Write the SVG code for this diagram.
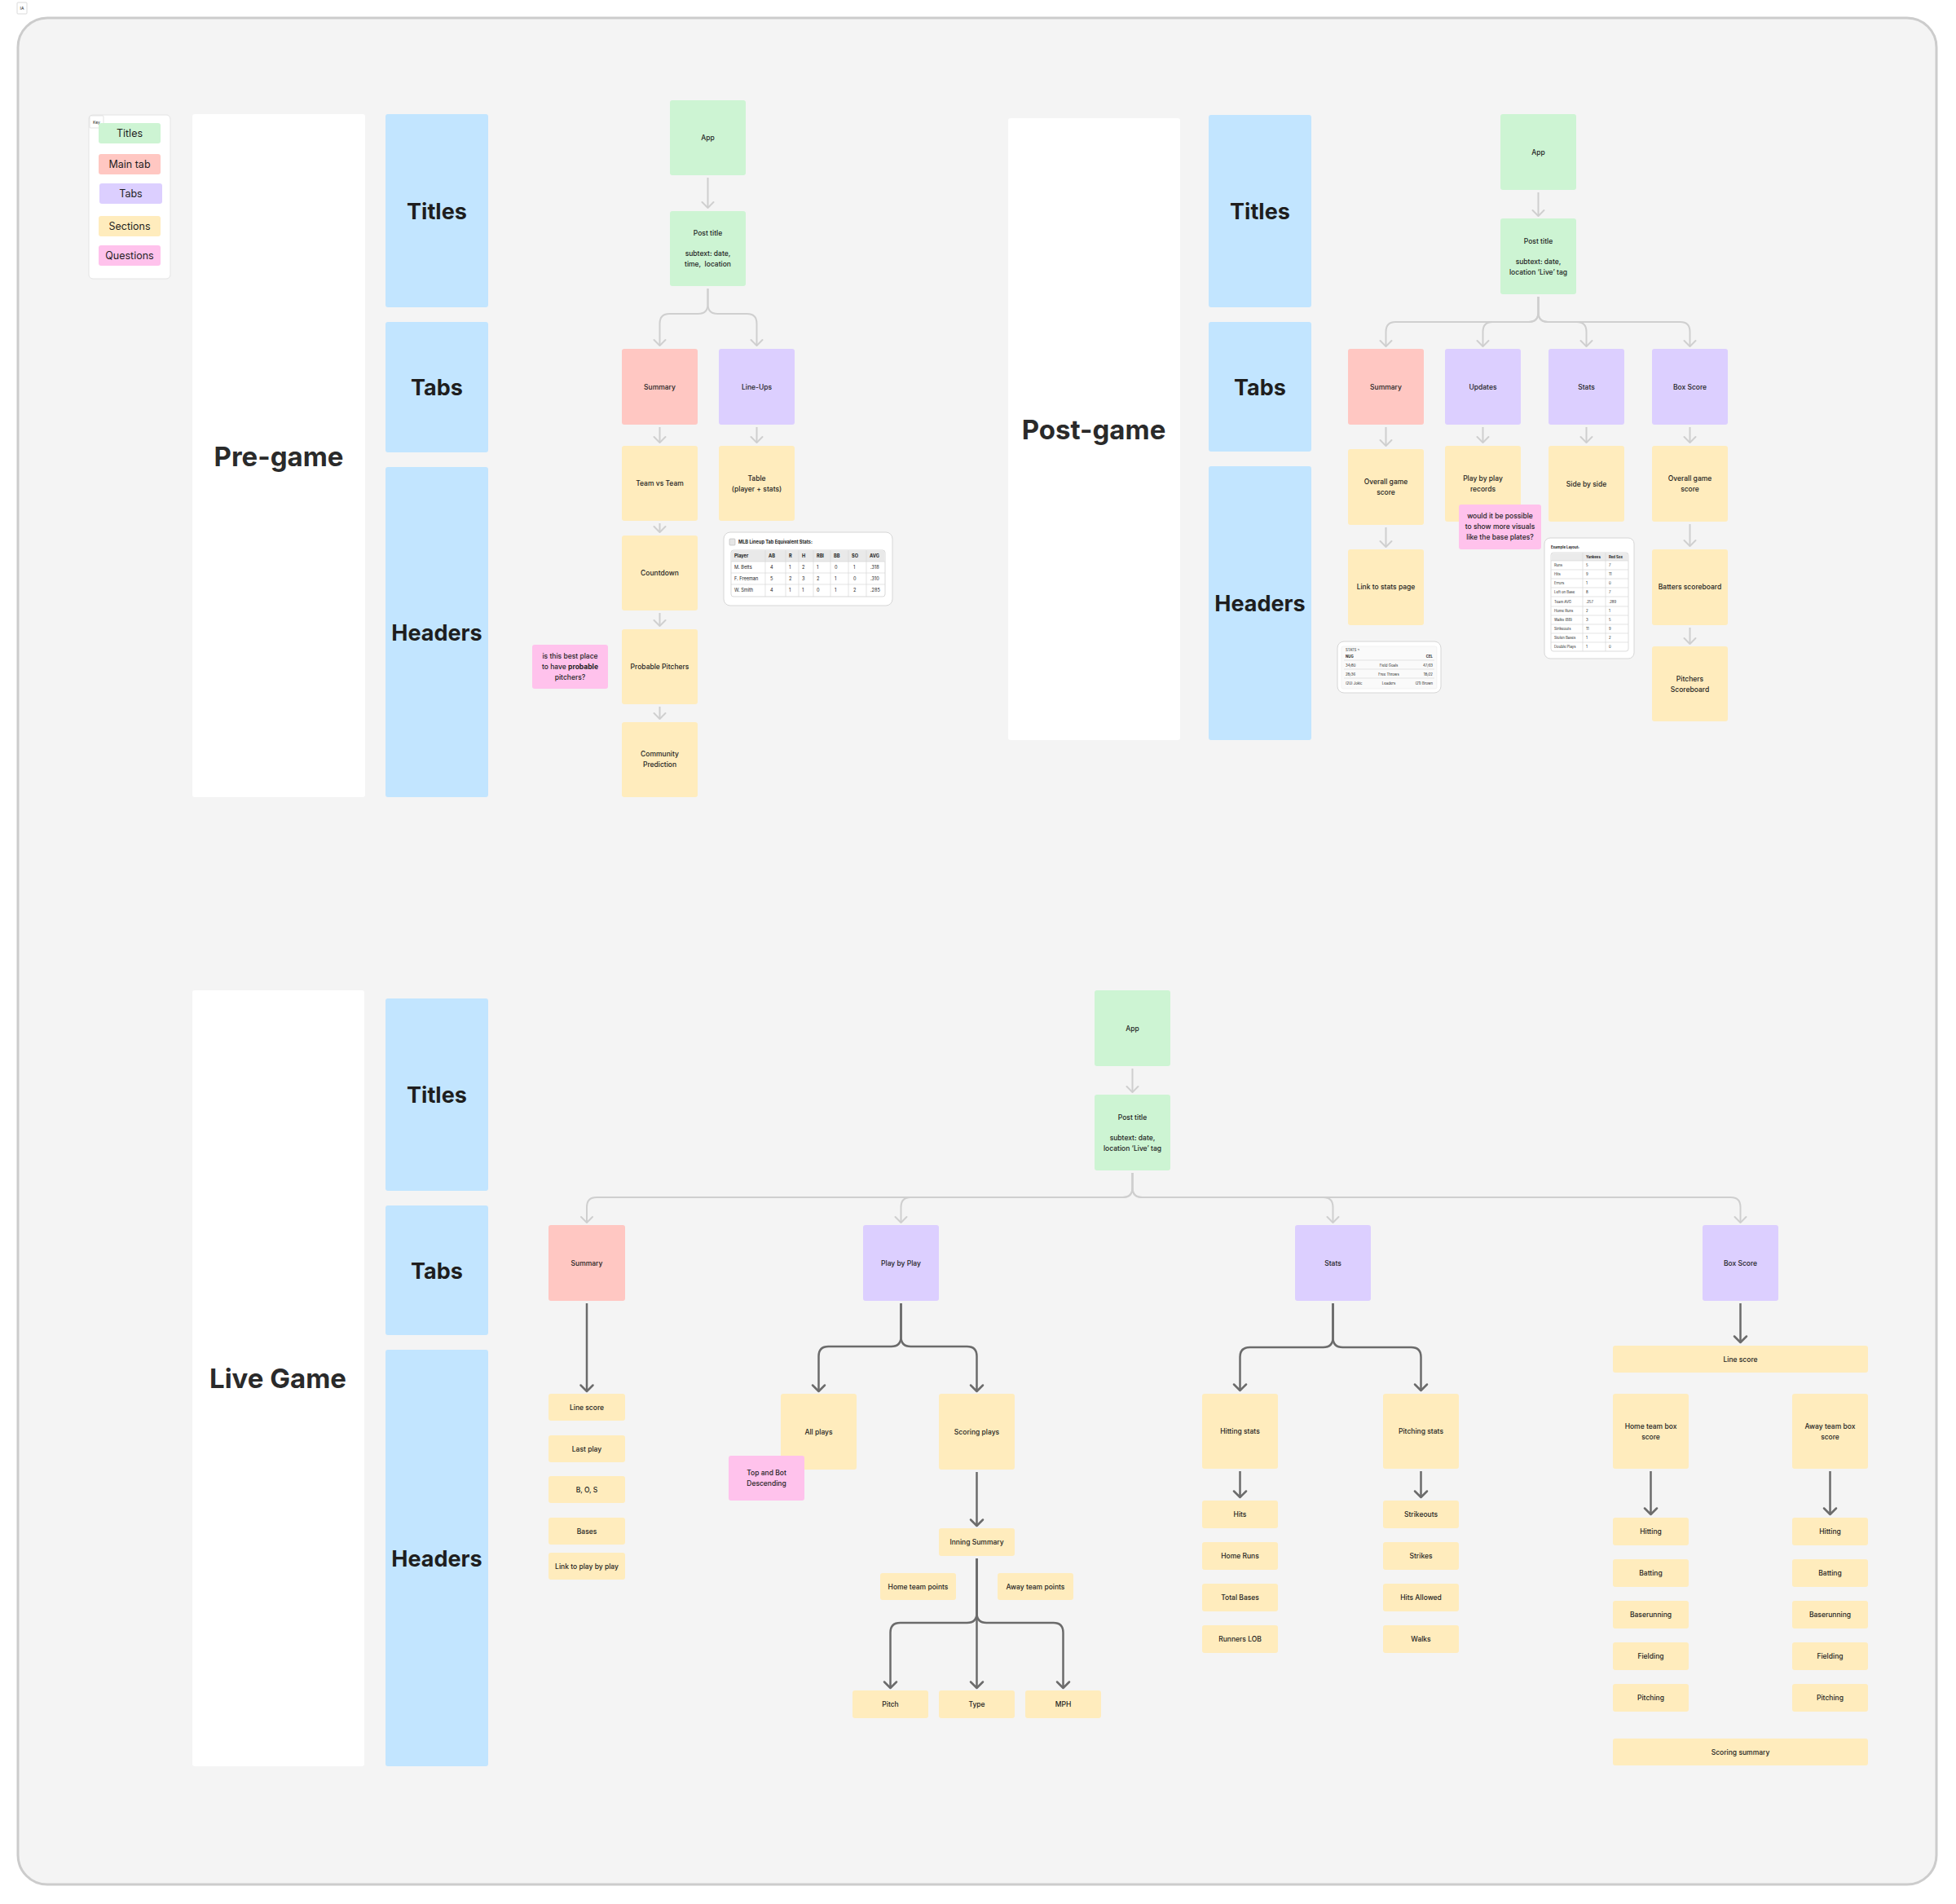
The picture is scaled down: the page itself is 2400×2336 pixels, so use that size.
<svg xmlns="http://www.w3.org/2000/svg" width="2400" height="2336" viewBox="0 0 2400 2336">
<defs>
<style>
.g{fill:#cdf4d3}.r{fill:#ffc7c2}.v{fill:#dccfff}.y{fill:#ffecbd}.p{fill:#ffc2ec}.b{fill:#c2e5ff}.w{fill:#ffffff}
rect{rx:3px}
text{font-family:Inter,"Noto Sans","Liberation Sans",sans-serif;fill:#1e1e1e}
.n{font-size:8.5px;font-weight:500;text-anchor:middle;dominant-baseline:central}
.h{font-size:27px;font-weight:700;text-anchor:middle;dominant-baseline:central}
.s{font-size:33px;font-weight:700;text-anchor:middle;dominant-baseline:central;fill:#2a2a2a}
.k{font-size:12.5px;font-weight:400;text-anchor:middle;dominant-baseline:central}
.tiny{font-size:5px;font-weight:400;text-anchor:middle;dominant-baseline:central}
.tb{font-size:5.6px;font-weight:400;dominant-baseline:central}
.tbb{font-size:5.6px;font-weight:700;dominant-baseline:central}
.ex{font-size:4.3px;font-weight:400;dominant-baseline:central}
.exb{font-size:4.3px;font-weight:700;dominant-baseline:central}
.lc{fill:none;stroke:#cfcfcf;stroke-width:2;marker-end:url(#al)}
.dc{fill:none;stroke:#6b6b6b;stroke-width:2.5;marker-end:url(#ad)}
.card{fill:#ffffff;stroke:#d6d6d6;stroke-width:1}
.grid{stroke:#d9d9d9;stroke-width:0.7;fill:none}
</style>
<marker id="al" markerUnits="userSpaceOnUse" viewBox="-10 -10 12 20" refX="0" refY="0" markerWidth="12" markerHeight="20" orient="auto"><path d="M-7,-7 L0,0 L-7,7" fill="none" stroke="#cfcfcf" stroke-width="2" stroke-linecap="round" stroke-linejoin="round"/></marker>
<marker id="ad" markerUnits="userSpaceOnUse" viewBox="-10 -10 12 20" refX="0" refY="0" markerWidth="12" markerHeight="20" orient="auto"><path d="M-7.5,-7.5 L0,0 L-7.5,7.5" fill="none" stroke="#6b6b6b" stroke-width="2.5" stroke-linecap="round" stroke-linejoin="round"/></marker>
</defs>
<rect x="0" y="0" width="2400" height="2336" fill="#ffffff" style="rx:0"/>
<g id="ia-label"><rect x="21" y="3" width="12" height="14" fill="#ffffff" stroke="#d0d0d0" stroke-width="0.8" style="rx:1px"/><text class="tiny" x="27" y="10">IA</text></g>
<rect id="frame" x="22" y="22" width="2354" height="2290" fill="#f4f4f4" stroke="#cccccc" stroke-width="3" style="rx:36px"/>

<g id="key">
<rect x="109" y="141" width="100" height="201" fill="#ffffff" stroke="#e4e4e4" stroke-width="1" style="rx:5px"/>
<rect x="110" y="142" width="17" height="15" fill="#ffffff" stroke="#d6d6d6" stroke-width="0.7" style="rx:1px"/><text class="tiny" x="118.5" y="149.5">Key</text>
<rect class="g" x="121" y="151" width="76" height="25"/><text class="k" x="159" y="163.5">Titles</text>
<rect class="r" x="121" y="189" width="76" height="25"/><text class="k" x="159" y="201.5">Main tab</text>
<rect class="v" x="122" y="225" width="77" height="25"/><text class="k" x="160.5" y="237.5">Tabs</text>
<rect class="y" x="121" y="265" width="76" height="25"/><text class="k" x="159" y="277.5">Sections</text>
<rect class="p" x="121" y="301" width="76" height="25"/><text class="k" x="159" y="313.5">Questions</text>
</g>

<!-- PRE-GAME -->
<g id="pre-section"><rect class="w" x="236" y="140" width="212" height="838"/><text class="s" x="342" y="560">Pre-game</text></g>
<g id="pre-titles"><rect class="b" x="473" y="140" width="126" height="237"/><text class="h" x="536" y="259">Titles</text></g>
<g id="pre-tabs"><rect class="b" x="473" y="395" width="126" height="160"/><text class="h" x="536" y="475">Tabs</text></g>
<g id="pre-headers"><rect class="b" x="473" y="573" width="126" height="405"/><text class="h" x="536" y="776">Headers</text></g>

<g id="pre-app"><rect class="g" x="822" y="123" width="93" height="92"/><text class="n" x="868.5" y="169">App</text></g>
<g id="pre-post"><rect class="g" x="822" y="259" width="93" height="92"/><text class="n" x="868.5" y="286">Post title</text><text class="n" x="868.5" y="311">subtext: date,</text><text class="n" x="868.5" y="324" xml:space="preserve">time,  location</text></g>
<g id="pre-summary"><rect class="r" x="763" y="428" width="93" height="93"/><text class="n" x="809.5" y="475">Summary</text></g>
<g id="pre-lineups"><rect class="v" x="882" y="428" width="93" height="93"/><text class="n" x="928.5" y="475">Line-Ups</text></g>
<g id="pre-teamvs"><rect class="y" x="763" y="547" width="93" height="92"/><text class="n" x="809.5" y="593">Team vs Team</text></g>
<g id="pre-table"><rect class="y" x="882" y="547" width="93" height="92"/><text class="n" x="928.5" y="587">Table</text><text class="n" x="928.5" y="600">(player + stats)</text></g>
<g id="pre-countdown"><rect class="y" x="763" y="657" width="93" height="92"/><text class="n" x="809.5" y="703">Countdown</text></g>
<g id="pre-pitchers"><rect class="y" x="763" y="772" width="93" height="92"/><text class="n" x="809.5" y="818">Probable Pitchers</text></g>
<g id="pre-community"><rect class="y" x="763" y="886" width="93" height="92"/><text class="n" x="809.5" y="925">Community</text><text class="n" x="809.5" y="938">Prediction</text></g>
<g id="pre-question"><rect class="p" x="653" y="791" width="93" height="54"/><text class="n" x="699.5" y="805">is this best place</text><text class="n" x="699.5" y="818">to have <tspan font-weight="700">probable</tspan></text><text class="n" x="699.5" y="831" font-weight="700">pitchers?</text></g>

<g id="pre-mlb-card">
<rect class="card" x="888" y="653" width="207" height="90" style="rx:8px"/>
<rect x="895" y="661" width="7" height="8" fill="#e6e6e6" stroke="#aaaaaa" stroke-width="0.5" style="rx:1px"/>
<text class="tbb" x="906" y="665" font-size="6.3">MLB Lineup Tab Equivalent Stats:</text>
<rect x="897" y="675" width="189" height="57" fill="#ffffff" stroke="#cfcfcf" stroke-width="0.8" style="rx:3px"/>
<path d="M897.5,689 V678 Q897.5,675.5 900,675.5 H1083 Q1085.5,675.5 1085.5,678 V689 Z" fill="#e9e9e9"/>
<path class="grid" d="M897,689 H1086 M897,703 H1086 M897,717 H1086 M939,675 V732 M964,675 V732 M980,675 V732 M998,675 V732 M1019,675 V732 M1041,675 V732 M1063,675 V732"/>
<g class="tbb"><text class="tbb" x="901" y="682">Player</text><text class="tbb" x="943" y="682">AB</text><text class="tbb" x="968" y="682">R</text><text class="tbb" x="984" y="682">H</text><text class="tbb" x="1002" y="682">RBI</text><text class="tbb" x="1023" y="682">BB</text><text class="tbb" x="1045" y="682">SO</text><text class="tbb" x="1067" y="682">AVG</text></g>
<text class="tb" x="901" y="696">M. Betts</text><text class="tb" x="945" y="696">4</text><text class="tb" x="968" y="696">1</text><text class="tb" x="984" y="696">2</text><text class="tb" x="1002" y="696">1</text><text class="tb" x="1024" y="696">0</text><text class="tb" x="1047" y="696">1</text><text class="tb" x="1068" y="696">.318</text>
<text class="tb" x="901" y="710">F. Freeman</text><text class="tb" x="945" y="710">5</text><text class="tb" x="968" y="710">2</text><text class="tb" x="984" y="710">3</text><text class="tb" x="1002" y="710">2</text><text class="tb" x="1024" y="710">1</text><text class="tb" x="1047" y="710">0</text><text class="tb" x="1068" y="710">.310</text>
<text class="tb" x="901" y="724">W. Smith</text><text class="tb" x="945" y="724">4</text><text class="tb" x="968" y="724">1</text><text class="tb" x="984" y="724">1</text><text class="tb" x="1002" y="724">0</text><text class="tb" x="1024" y="724">1</text><text class="tb" x="1047" y="724">2</text><text class="tb" x="1068" y="724">.285</text>
</g>

<!-- POST-GAME -->
<g id="post-section"><rect class="w" x="1237" y="145" width="211" height="763"/><text class="s" x="1342" y="527">Post-game</text></g>
<g id="post-titles"><rect class="b" x="1483" y="141" width="126" height="236"/><text class="h" x="1546" y="259">Titles</text></g>
<g id="post-tabs"><rect class="b" x="1483" y="395" width="126" height="159"/><text class="h" x="1546" y="475">Tabs</text></g>
<g id="post-headers"><rect class="b" x="1483" y="572" width="126" height="336"/><text class="h" x="1546" y="740">Headers</text></g>

<g id="post-app"><rect class="g" x="1841" y="140" width="93" height="93"/><text class="n" x="1887.5" y="186.5">App</text></g>
<g id="post-post"><rect class="g" x="1841" y="268" width="93" height="93"/><text class="n" x="1887.5" y="296">Post title</text><text class="n" x="1887.5" y="321">subtext: date,</text><text class="n" x="1887.5" y="334">location ‘Live’ tag</text></g>
<g id="post-summary"><rect class="r" x="1654" y="428" width="93" height="93"/><text class="n" x="1700.5" y="474.5">Summary</text></g>
<g id="post-updates"><rect class="v" x="1773" y="428" width="93" height="93"/><text class="n" x="1819.5" y="474.5">Updates</text></g>
<g id="post-stats"><rect class="v" x="1900" y="428" width="93" height="93"/><text class="n" x="1946.5" y="474.5">Stats</text></g>
<g id="post-boxscore"><rect class="v" x="2027" y="428" width="93" height="93"/><text class="n" x="2073.5" y="474.5">Box Score</text></g>
<g id="post-overall1"><rect class="y" x="1654" y="551" width="93" height="93"/><text class="n" x="1700.5" y="591">Overall game</text><text class="n" x="1700.5" y="604">score</text></g>
<g id="post-pbp"><rect class="y" x="1773" y="547" width="93" height="93"/><text class="n" x="1819.5" y="587">Play by play</text><text class="n" x="1819.5" y="600">records</text></g>
<g id="post-side"><rect class="y" x="1900" y="547" width="93" height="93"/><text class="n" x="1946.5" y="593.5">Side by side</text></g>
<g id="post-overall2"><rect class="y" x="2027" y="547" width="93" height="93"/><text class="n" x="2073.5" y="587">Overall game</text><text class="n" x="2073.5" y="600">score</text></g>
<g id="post-link"><rect class="y" x="1654" y="674" width="93" height="93"/><text class="n" x="1700.5" y="720">Link to stats page</text></g>
<g id="post-batters"><rect class="y" x="2027" y="674" width="93" height="93"/><text class="n" x="2073.5" y="720">Batters scoreboard</text></g>
<g id="post-pitchers"><rect class="y" x="2027" y="793" width="93" height="92"/><text class="n" x="2073.5" y="833">Pitchers</text><text class="n" x="2073.5" y="846">Scoreboard</text></g>
<g id="post-question"><rect class="p" x="1790" y="619" width="101" height="55"/><text class="n" x="1840.5" y="633">would it be possible</text><text class="n" x="1840.5" y="646">to show more visuals</text><text class="n" x="1840.5" y="659">like the base plates?</text></g>

<g id="post-nba-card">
<rect class="card" x="1641" y="787" width="127" height="63" style="rx:8px"/>
<rect x="1646" y="793" width="117" height="52" fill="#fafafa" stroke="#ececec" stroke-width="0.6" style="rx:2px"/>
<path class="grid" d="M1649,810 H1760 M1649,821 H1760 M1649,832 H1760"/>
<text class="ex" x="1651" y="797" fill="#888888" font-size="3.6">STATS &gt;</text>
<text class="exb" x="1651" y="805">NUG</text><text class="exb" x="1758" y="805" text-anchor="end">CEL</text>
<text class="ex" x="1651" y="816">34/80</text><text class="ex" x="1704" y="816" text-anchor="middle">Field Goals</text><text class="ex" x="1758" y="816" text-anchor="end">47/93</text>
<text class="ex" x="1651" y="827">28/36</text><text class="ex" x="1704" y="827" text-anchor="middle">Free Throws</text><text class="ex" x="1758" y="827" text-anchor="end">18/22</text>
<text class="ex" x="1651" y="838">(20) Jokic</text><text class="ex" x="1704" y="838" text-anchor="middle">Leaders</text><text class="ex" x="1758" y="838" text-anchor="end">(21) Brown</text>
</g>

<g id="post-example-card">
<rect class="card" x="1895" y="660" width="110" height="148" style="rx:7px"/>
<text class="exb" x="1903" y="671">Example Layout:</text>
<rect x="1903" y="678" width="95" height="121" fill="#ffffff" stroke="#cfcfcf" stroke-width="0.7" style="rx:3px"/>
<path d="M1903.4,688 V681 Q1903.4,678.4 1906,678.4 H1995 Q1997.6,678.4 1997.6,681 V688 Z" fill="#ebebeb"/>
<path class="grid" d="M1903,688 H1998 M1903,699 H1998 M1903,710 H1998 M1903,721 H1998 M1903,732 H1998 M1903,744 H1998 M1903,755 H1998 M1903,766 H1998 M1903,777 H1998 M1903,788 H1998 M1942,678 V799 M1970,678 V799"/>
<text class="exb" x="1946" y="683">Yankees</text><text class="exb" x="1974" y="683">Red Sox</text>
<text class="ex" x="1907" y="693.5">Runs</text><text class="ex" x="1946" y="693.5">5</text><text class="ex" x="1974" y="693.5">7</text>
<text class="ex" x="1907" y="704.5">Hits</text><text class="ex" x="1946" y="704.5">9</text><text class="ex" x="1974" y="704.5">11</text>
<text class="ex" x="1907" y="715.5">Errors</text><text class="ex" x="1946" y="715.5">1</text><text class="ex" x="1974" y="715.5">0</text>
<text class="ex" x="1907" y="726.5">Left on Base</text><text class="ex" x="1946" y="726.5">8</text><text class="ex" x="1974" y="726.5">7</text>
<text class="ex" x="1907" y="738">Team AVG</text><text class="ex" x="1946" y="738">.257</text><text class="ex" x="1974" y="738">.289</text>
<text class="ex" x="1907" y="749.5">Home Runs</text><text class="ex" x="1946" y="749.5">2</text><text class="ex" x="1974" y="749.5">1</text>
<text class="ex" x="1907" y="760.5">Walks (BB)</text><text class="ex" x="1946" y="760.5">3</text><text class="ex" x="1974" y="760.5">5</text>
<text class="ex" x="1907" y="771.5">Strikeouts</text><text class="ex" x="1946" y="771.5">11</text><text class="ex" x="1974" y="771.5">9</text>
<text class="ex" x="1907" y="782.5">Stolen Bases</text><text class="ex" x="1946" y="782.5">1</text><text class="ex" x="1974" y="782.5">2</text>
<text class="ex" x="1907" y="793.5">Double Plays</text><text class="ex" x="1946" y="793.5">1</text><text class="ex" x="1974" y="793.5">0</text>
</g>

<!-- LIVE GAME -->
<g id="live-section"><rect class="w" x="236" y="1215" width="211" height="952"/><text class="s" x="341" y="1691">Live Game</text></g>
<g id="live-titles"><rect class="b" x="473" y="1225" width="126" height="236"/><text class="h" x="536" y="1343">Titles</text></g>
<g id="live-tabs"><rect class="b" x="473" y="1479" width="126" height="159"/><text class="h" x="536" y="1559">Tabs</text></g>
<g id="live-headers"><rect class="b" x="473" y="1656" width="126" height="511"/><text class="h" x="536" y="1912">Headers</text></g>

<g id="live-app"><rect class="g" x="1343" y="1215" width="93" height="93"/><text class="n" x="1389.5" y="1262">App</text></g>
<g id="live-post"><rect class="g" x="1343" y="1343" width="93" height="93"/><text class="n" x="1389.5" y="1371">Post title</text><text class="n" x="1389.5" y="1396">subtext: date,</text><text class="n" x="1389.5" y="1409">location ‘Live’ tag</text></g>
<g id="live-summary"><rect class="r" x="673" y="1503" width="94" height="93"/><text class="n" x="720" y="1549.5">Summary</text></g>
<g id="live-pbp"><rect class="v" x="1059" y="1503" width="93" height="93"/><text class="n" x="1105.5" y="1549.5">Play by Play</text></g>
<g id="live-stats"><rect class="v" x="1589" y="1503" width="93" height="93"/><text class="n" x="1635.5" y="1549.5">Stats</text></g>
<g id="live-boxscore"><rect class="v" x="2089" y="1503" width="93" height="93"/><text class="n" x="2135.5" y="1549.5">Box Score</text></g>

<g id="live-s-linescore"><rect class="y" x="673" y="1710" width="94" height="33"/><text class="n" x="720" y="1726.5">Line score</text></g>
<g id="live-s-lastplay"><rect class="y" x="673" y="1761" width="94" height="33"/><text class="n" x="720" y="1777.5">Last play</text></g>
<g id="live-s-bos"><rect class="y" x="673" y="1811" width="94" height="33"/><text class="n" x="720" y="1827.5">B, O, S</text></g>
<g id="live-s-bases"><rect class="y" x="673" y="1862" width="94" height="33"/><text class="n" x="720" y="1878.5">Bases</text></g>
<g id="live-s-link"><rect class="y" x="673" y="1905" width="94" height="33"/><text class="n" x="720" y="1921.5">Link to play by play</text></g>

<g id="live-allplays"><rect class="y" x="958" y="1710" width="93" height="93"/><text class="n" x="1004.5" y="1756.5">All plays</text></g>
<g id="live-scoring"><rect class="y" x="1152" y="1710" width="93" height="93"/><text class="n" x="1198.5" y="1756.5">Scoring plays</text></g>
<g id="live-topbot"><rect class="p" x="894" y="1786" width="93" height="55"/><text class="n" x="940.5" y="1807">Top and Bot</text><text class="n" x="940.5" y="1820">Descending</text></g>
<g id="live-inning"><rect class="y" x="1152" y="1875" width="93" height="34"/><text class="n" x="1198.5" y="1892">Inning Summary</text></g>
<g id="live-home-pts"><rect class="y" x="1080" y="1930" width="93" height="33"/><text class="n" x="1126.5" y="1946.5">Home team points</text></g>
<g id="live-away-pts"><rect class="y" x="1224" y="1930" width="93" height="33"/><text class="n" x="1270.5" y="1946.5">Away team points</text></g>
<g id="live-pitch"><rect class="y" x="1046" y="2074" width="93" height="34"/><text class="n" x="1092.5" y="2091">Pitch</text></g>
<g id="live-type"><rect class="y" x="1152" y="2074" width="93" height="34"/><text class="n" x="1198.5" y="2091">Type</text></g>
<g id="live-mph"><rect class="y" x="1258" y="2074" width="93" height="34"/><text class="n" x="1304.5" y="2091">MPH</text></g>

<g id="live-hitting-stats"><rect class="y" x="1475" y="1710" width="93" height="92"/><text class="n" x="1521.5" y="1756">Hitting stats</text></g>
<g id="live-pitching-stats"><rect class="y" x="1697" y="1710" width="93" height="92"/><text class="n" x="1743.5" y="1756">Pitching stats</text></g>
<g id="live-hits"><rect class="y" x="1475" y="1841" width="93" height="34"/><text class="n" x="1521.5" y="1858">Hits</text></g>
<g id="live-homeruns"><rect class="y" x="1475" y="1892" width="93" height="34"/><text class="n" x="1521.5" y="1909">Home Runs</text></g>
<g id="live-totalbases"><rect class="y" x="1475" y="1943" width="93" height="34"/><text class="n" x="1521.5" y="1960">Total Bases</text></g>
<g id="live-runnerslob"><rect class="y" x="1475" y="1994" width="93" height="34"/><text class="n" x="1521.5" y="2011">Runners LOB</text></g>
<g id="live-strikeouts"><rect class="y" x="1697" y="1841" width="93" height="34"/><text class="n" x="1743.5" y="1858">Strikeouts</text></g>
<g id="live-strikes"><rect class="y" x="1697" y="1892" width="93" height="34"/><text class="n" x="1743.5" y="1909">Strikes</text></g>
<g id="live-hitsallowed"><rect class="y" x="1697" y="1943" width="93" height="34"/><text class="n" x="1743.5" y="1960">Hits Allowed</text></g>
<g id="live-walks"><rect class="y" x="1697" y="1994" width="93" height="34"/><text class="n" x="1743.5" y="2011">Walks</text></g>

<g id="live-b-linescore"><rect class="y" x="1979" y="1651" width="313" height="33"/><text class="n" x="2135.5" y="1667.5">Line score</text></g>
<g id="live-b-home"><rect class="y" x="1979" y="1710" width="93" height="92"/><text class="n" x="2025.5" y="1750">Home team box</text><text class="n" x="2025.5" y="1763">score</text></g>
<g id="live-b-away"><rect class="y" x="2199" y="1710" width="93" height="92"/><text class="n" x="2245.5" y="1750">Away team box</text><text class="n" x="2245.5" y="1763">score</text></g>
<g id="live-bh-hitting"><rect class="y" x="1979" y="1862" width="93" height="34"/><text class="n" x="2025.5" y="1879">Hitting</text></g>
<g id="live-bh-batting"><rect class="y" x="1979" y="1913" width="93" height="34"/><text class="n" x="2025.5" y="1930">Batting</text></g>
<g id="live-bh-baserunning"><rect class="y" x="1979" y="1964" width="93" height="34"/><text class="n" x="2025.5" y="1981">Baserunning</text></g>
<g id="live-bh-fielding"><rect class="y" x="1979" y="2015" width="93" height="34"/><text class="n" x="2025.5" y="2032">Fielding</text></g>
<g id="live-bh-pitching"><rect class="y" x="1979" y="2066" width="93" height="34"/><text class="n" x="2025.5" y="2083">Pitching</text></g>
<g id="live-ba-hitting"><rect class="y" x="2199" y="1862" width="93" height="34"/><text class="n" x="2245.5" y="1879">Hitting</text></g>
<g id="live-ba-batting"><rect class="y" x="2199" y="1913" width="93" height="34"/><text class="n" x="2245.5" y="1930">Batting</text></g>
<g id="live-ba-baserunning"><rect class="y" x="2199" y="1964" width="93" height="34"/><text class="n" x="2245.5" y="1981">Baserunning</text></g>
<g id="live-ba-fielding"><rect class="y" x="2199" y="2015" width="93" height="34"/><text class="n" x="2245.5" y="2032">Fielding</text></g>
<g id="live-ba-pitching"><rect class="y" x="2199" y="2066" width="93" height="34"/><text class="n" x="2245.5" y="2083">Pitching</text></g>
<g id="live-b-scoring"><rect class="y" x="1979" y="2133" width="313" height="33"/><text class="n" x="2135.5" y="2149.5">Scoring summary</text></g>

<g id="connectors">
<path class="lc" d="M868.5,218 V255"/>
<path class="lc" d="M868.5,354 V373 Q868.5,385 856.5,385 H821.5 Q809.5,385 809.5,397 V424"/>
<path class="lc" d="M868.5,354 V373 Q868.5,385 880.5,385 H916.5 Q928.5,385 928.5,397 V424"/>
<path class="lc" d="M809.5,524 V543"/>
<path class="lc" d="M809.5,642 V653"/>
<path class="lc" d="M809.5,752 V768"/>
<path class="lc" d="M809.5,867 V882"/>
<path class="lc" d="M928.5,524 V543"/>

<path class="lc" d="M1887.5,236 V265"/>
<path class="lc" d="M1887.5,364 V383 Q1887.5,395 1875.5,395 H1712.5 Q1700.5,395 1700.5,407 V425"/>
<path class="lc" d="M1887.5,364 V383 Q1887.5,395 1875.5,395 H1831.5 Q1819.5,395 1819.5,407 V425"/>
<path class="lc" d="M1887.5,364 V383 Q1887.5,395 1899.5,395 H1934.5 Q1946.5,395 1946.5,407 V425"/>
<path class="lc" d="M1887.5,364 V383 Q1887.5,395 1899.5,395 H2061.5 Q2073.5,395 2073.5,407 V425"/>
<path class="lc" d="M1700.5,524 V547"/>
<path class="lc" d="M1819.5,524 V543"/>
<path class="lc" d="M1946.5,524 V543"/>
<path class="lc" d="M2073.5,524 V543"/>
<path class="lc" d="M1700.5,647 V671"/>
<path class="lc" d="M2073.5,643 V670"/>
<path class="lc" d="M2073.5,770 V790"/>

<path class="lc" d="M1389.5,1311 V1340"/>
<path class="lc" d="M1389.5,1439 V1457 Q1389.5,1469 1377.5,1469 H732 Q720,1469 720,1481 V1500"/>
<path class="lc" d="M1389.5,1439 V1457 Q1389.5,1469 1377.5,1469 H1117.5 Q1105.5,1469 1105.5,1481 V1500"/>
<path class="lc" d="M1389.5,1439 V1457 Q1389.5,1469 1401.5,1469 H1623.5 Q1635.5,1469 1635.5,1481 V1500"/>
<path class="lc" d="M1389.5,1439 V1457 Q1389.5,1469 1401.5,1469 H2123.5 Q2135.5,1469 2135.5,1481 V1500"/>

<path class="dc" d="M720,1599 V1707"/>
<path class="dc" d="M1105.5,1599 V1640 Q1105.5,1652 1093.5,1652 H1016.5 Q1004.5,1652 1004.5,1664 V1707"/>
<path class="dc" d="M1105.5,1599 V1640 Q1105.5,1652 1117.5,1652 H1186.5 Q1198.5,1652 1198.5,1664 V1707"/>
<path class="dc" d="M1198.5,1806 V1872"/>
<path class="dc" d="M1198.5,1912 V1979 Q1198.5,1991 1186.5,1991 H1104.5 Q1092.5,1991 1092.5,2003 V2071"/>
<path class="dc" d="M1198.5,1912 V2071"/>
<path class="dc" d="M1198.5,1912 V1979 Q1198.5,1991 1210.5,1991 H1292.5 Q1304.5,1991 1304.5,2003 V2071"/>
<path class="dc" d="M1635.5,1599 V1641 Q1635.5,1653 1623.5,1653 H1533.5 Q1521.5,1653 1521.5,1665 V1706"/>
<path class="dc" d="M1635.5,1599 V1641 Q1635.5,1653 1647.5,1653 H1731.5 Q1743.5,1653 1743.5,1665 V1706"/>
<path class="dc" d="M1521.5,1805 V1837"/>
<path class="dc" d="M1743.5,1805 V1837"/>
<path class="dc" d="M2135.5,1599 V1647"/>
<path class="dc" d="M2025.5,1805 V1858"/>
<path class="dc" d="M2245.5,1805 V1858"/>
</g>
</svg>
